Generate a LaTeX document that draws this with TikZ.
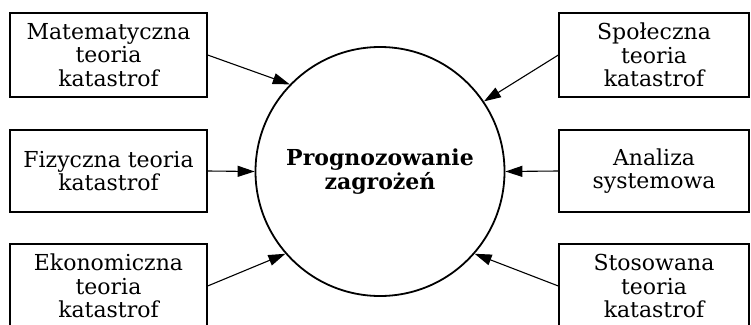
\documentclass[tikz,border=0pt]{standalone}
\usepackage{fontspec}
\setmainfont{DejaVu Serif}
\usetikzlibrary{arrows.meta}

\begin{document}
\begin{tikzpicture}[
x=1pt,
y=-1pt,
srcbox/.style={
  draw,
  line width=1.3pt,
  align=center,
  inner sep=0pt,
  minimum height=84pt,
  font=\fontsize{22}{23.5}\selectfont
  },
hub/.style={
  draw,
  circle,
  line width=1.8pt,
  inner sep=0pt,
  minimum size=249pt,
  align=center,
  font=\fontsize{22}{24}\selectfont\bfseries
  },
feed/.style={
  ->,
  line width=1.1pt
  },
>={Triangle[length=17pt,width=11pt]}
]
\useasboundingbox (0,0) rectangle (751,324);

\node[hub] (prog) at (380,171.5) {Prognozowanie\\zagrożeń};

% left column
\node[srcbox, minimum width=197pt] (mat) at (108.5,55)
  {Matematyczna\\teoria\\katastrof};
\node[srcbox, minimum width=197pt, minimum height=82pt] (fiz) at (108.5,171)
  {Fizyczna teoria\\katastrof};
\node[srcbox, minimum width=197pt] (eko) at (108.5,286)
  {Ekonomiczna\\teoria\\katastrof};

% right column
\node[srcbox, minimum width=190pt] (spo) at (654,55)
  {Społeczna\\teoria\\katastrof};
\node[srcbox, minimum width=190pt, minimum height=82pt] (ana) at (654,171)
  {Analiza\\systemowa};
\node[srcbox, minimum width=190pt] (sto) at (654,286)
  {Stosowana\\teoria\\katastrof};

\draw[feed] (mat.east) -- (prog.136);
\draw[feed] (fiz.east) -- (prog.west);
\draw[feed] (eko.east) -- (prog.221);
\draw[feed] (spo.west) -- (prog.34);
\draw[feed] (ana.west) -- (prog.east);
\draw[feed] (sto.west) -- (prog.319);
\end{tikzpicture}
\end{document}
